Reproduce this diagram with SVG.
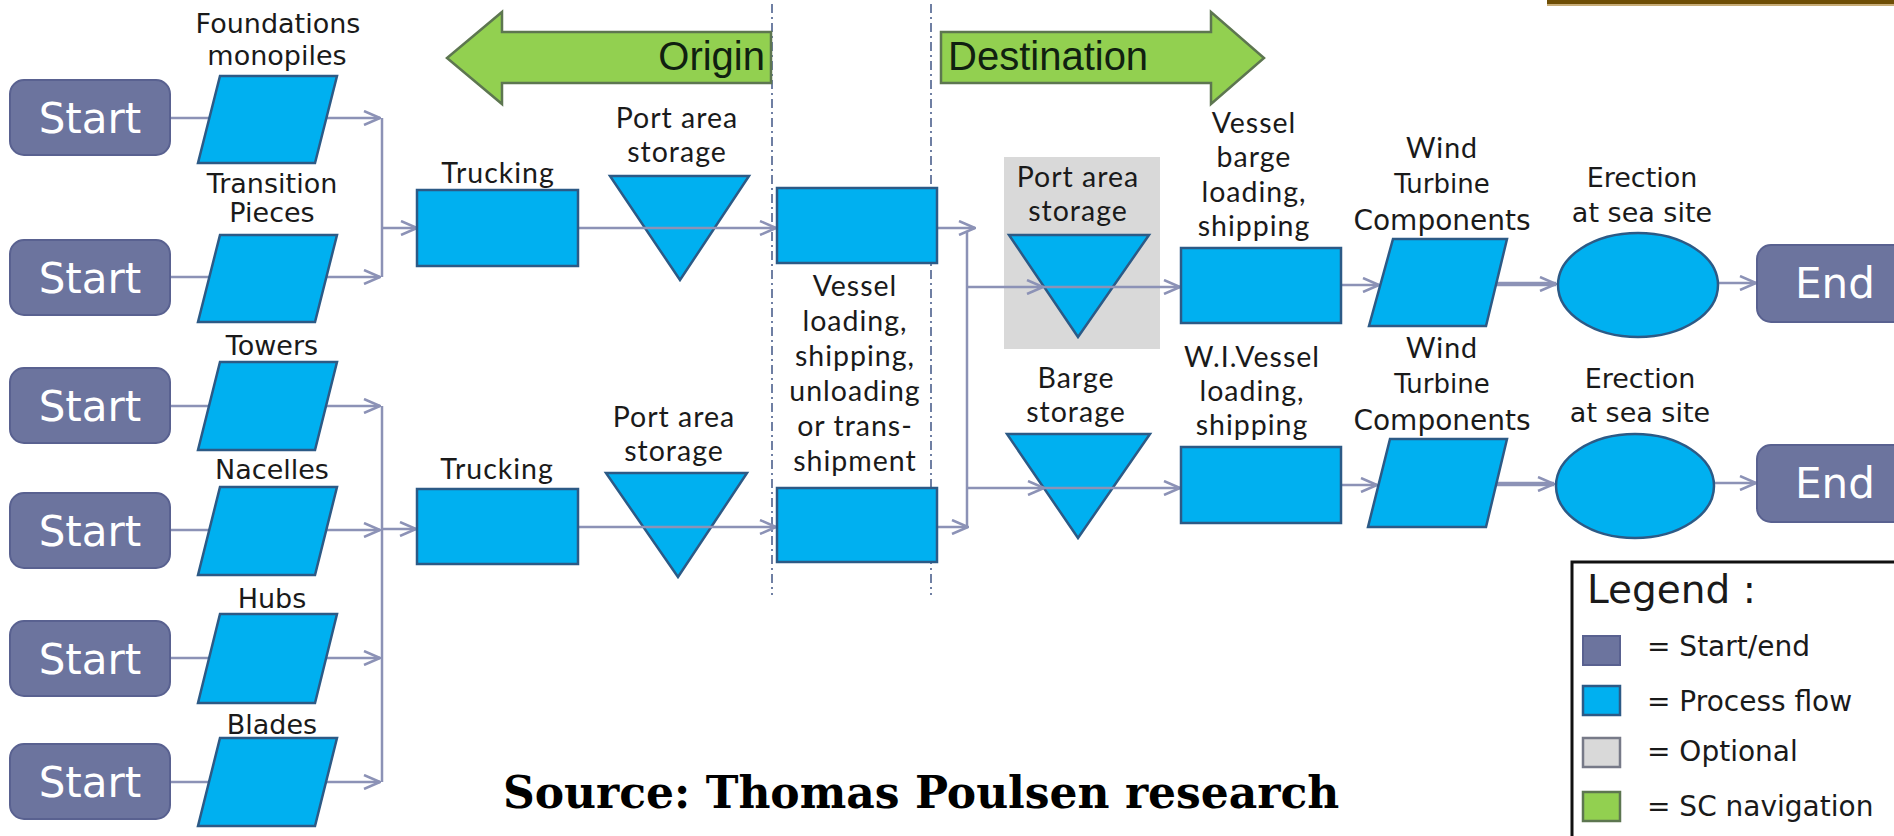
<svg xmlns="http://www.w3.org/2000/svg" width="1894" height="836" viewBox="0 0 1894 836">
<defs>
<style>
.se{fill:#6c749e;stroke:#596190;stroke-width:2}
.pf{fill:#00b0f0;stroke:#2c5a86;stroke-width:2.5}
.opt{fill:#d9d9d9}
.nav{fill:#92d050;stroke:#5d7650;stroke-width:2.5}
.cn{stroke:#8c92b6;stroke-width:2.5;fill:none}
.thick{stroke:#8c92b6;stroke-width:4.5;fill:none}
.dash{stroke:#6f7fa3;stroke-width:2;stroke-dasharray:9 4 2 4;fill:none}
.st{font-family:"DejaVu Sans",sans-serif;font-size:42px;fill:#ffffff;text-anchor:middle}
.gl{font-family:"DejaVu Sans",sans-serif;font-size:27px;fill:#1a1a1a;text-anchor:middle}
.cl{font-family:Lato,"Liberation Sans",sans-serif;font-size:28.5px;letter-spacing:1px;fill:#1a1a1a;text-anchor:middle}
.nt{font-family:"Liberation Sans",Arial,sans-serif;font-size:40px;fill:#102010}
.lg{font-family:"DejaVu Sans",sans-serif;font-size:28px;fill:#1a1a1a}
.src{font-family:"DejaVu Serif",serif;font-weight:bold;font-size:44px;fill:#000000}
</style>
<marker id="ah" viewBox="0 0 18 16" refX="17" refY="8" markerWidth="18" markerHeight="16" markerUnits="userSpaceOnUse" orient="auto">
<path d="M1,1 L17,8 L1,15" fill="none" stroke="#8c92b6" stroke-width="2.5"/>
</marker>
</defs>
<rect width="1894" height="836" fill="#ffffff"/>

<!-- top-right frame edge -->
<rect x="1547" y="0" width="347" height="4" fill="#6e4e05"/>
<rect x="1547" y="4" width="347" height="2" fill="#c8ad78"/>

<!-- dashed boundaries -->
<g id="boundaries">
<line class="dash" x1="772" y1="4" x2="772" y2="595"/>
<line class="dash" x1="931" y1="4" x2="931" y2="595"/>
</g>

<!-- navigation arrows -->
<g id="origin">
<polygon class="nav" points="771,32 502,32 502,12 447,58 502,104 502,83 771,83"/>
<text class="nt" x="765" y="70" text-anchor="end">Origin</text>
</g>
<g id="destination">
<polygon class="nav" points="941,32 1211,32 1211,12 1264,58 1211,104 1211,83 941,83"/>
<text class="nt" x="948" y="70">Destination</text>
</g>

<!-- optional area -->
<g id="optional-area">
<rect class="opt" x="1004" y="157" width="156" height="192"/>
</g>

<!-- storage triangles (connectors pass over them) -->
<g id="port-storage-origin-1">
<polygon class="pf" points="610,176 749,176 680,280"/>
<text class="cl" x="677" y="128">Port area</text>
<text class="cl" x="677" y="162">storage</text>
</g>
<g id="port-storage-origin-2">
<polygon class="pf" points="606,473 747,473 678,577"/>
<text class="cl" x="674" y="427">Port area</text>
<text class="cl" x="674" y="461">storage</text>
</g>
<g id="port-storage-dest">
<polygon class="pf" points="1009,235 1149,235 1078,337"/>
<text class="cl" x="1078" y="187">Port area</text>
<text class="cl" x="1078" y="221">storage</text>
</g>
<g id="barge-storage">
<polygon class="pf" points="1007,434 1150,434 1078,538"/>
<text class="cl" x="1076" y="388">Barge</text>
<text class="cl" x="1076" y="422">storage</text>
</g>

<!-- connectors -->
<g id="connectors">
<line class="cn" x1="170" y1="118" x2="380" y2="118" marker-end="url(#ah)"/>
<line class="cn" x1="170" y1="277" x2="380" y2="277" marker-end="url(#ah)"/>
<line class="cn" x1="382" y1="118" x2="382" y2="277"/>
<line class="cn" x1="382" y1="228" x2="417" y2="228" marker-end="url(#ah)"/>
<line class="cn" x1="170" y1="406" x2="380" y2="406" marker-end="url(#ah)"/>
<line class="cn" x1="170" y1="530" x2="380" y2="530" marker-end="url(#ah)"/>
<line class="cn" x1="170" y1="658" x2="380" y2="658" marker-end="url(#ah)"/>
<line class="cn" x1="170" y1="782" x2="380" y2="782" marker-end="url(#ah)"/>
<line class="cn" x1="382" y1="406" x2="382" y2="782"/>
<line class="cn" x1="382" y1="529" x2="416" y2="529" marker-end="url(#ah)"/>
<line class="cn" x1="578" y1="228" x2="776" y2="228" marker-end="url(#ah)"/>
<line class="cn" x1="578" y1="527" x2="776" y2="527" marker-end="url(#ah)"/>
<line class="cn" x1="937" y1="228" x2="975" y2="228" marker-end="url(#ah)"/>
<line class="cn" x1="937" y1="527" x2="968" y2="527" marker-end="url(#ah)"/>
<line class="cn" x1="967" y1="232" x2="967" y2="527"/>
<line class="cn" x1="967" y1="287" x2="1043" y2="287" marker-end="url(#ah)"/>
<line class="cn" x1="1043" y1="287" x2="1180" y2="287" marker-end="url(#ah)"/>
<line class="cn" x1="967" y1="488" x2="1044" y2="488" marker-end="url(#ah)"/>
<line class="cn" x1="1044" y1="488" x2="1180" y2="488" marker-end="url(#ah)"/>
<line class="cn" x1="1341" y1="285" x2="1379" y2="285" marker-end="url(#ah)"/>
<line class="cn" x1="1341" y1="485" x2="1377" y2="485" marker-end="url(#ah)"/>
<line class="thick" x1="1490" y1="284" x2="1556" y2="284" marker-end="url(#ah)"/>
<line class="thick" x1="1490" y1="484" x2="1554" y2="484" marker-end="url(#ah)"/>
<line class="cn" x1="1718" y1="283" x2="1756" y2="283" marker-end="url(#ah)"/>
<line class="cn" x1="1714" y1="483" x2="1756" y2="483" marker-end="url(#ah)"/>
</g>

<!-- start nodes -->
<g id="start-1"><rect class="se" x="10" y="80" width="160" height="75" rx="14"/><text class="st" x="90" y="133">Start</text></g>
<g id="start-2"><rect class="se" x="10" y="240" width="160" height="75" rx="14"/><text class="st" x="90" y="293">Start</text></g>
<g id="start-3"><rect class="se" x="10" y="368" width="160" height="75" rx="14"/><text class="st" x="90" y="421">Start</text></g>
<g id="start-4"><rect class="se" x="10" y="493" width="160" height="75" rx="14"/><text class="st" x="90" y="546">Start</text></g>
<g id="start-5"><rect class="se" x="10" y="621" width="160" height="75" rx="14"/><text class="st" x="90" y="674">Start</text></g>
<g id="start-6"><rect class="se" x="10" y="744" width="160" height="75" rx="14"/><text class="st" x="90" y="797">Start</text></g>

<!-- component parallelograms -->
<g id="foundations">
<polygon class="pf" points="220,76 337,76 315,163 198,163"/>
<text class="gl" x="278" y="33">Foundations</text>
<text class="gl" x="277" y="65">monopiles</text>
</g>
<g id="transition-pieces">
<polygon class="pf" points="220,235 337,235 315,322 198,322"/>
<text class="gl" x="272" y="193">Transition</text>
<text class="gl" x="272" y="222">Pieces</text>
</g>
<g id="towers">
<polygon class="pf" points="220,362 337,362 315,450 198,450"/>
<text class="gl" x="272" y="355">Towers</text>
</g>
<g id="nacelles">
<polygon class="pf" points="220,487 337,487 315,575 198,575"/>
<text class="gl" x="272" y="479">Nacelles</text>
</g>
<g id="hubs">
<polygon class="pf" points="220,614 337,614 315,703 198,703"/>
<text class="gl" x="272" y="608">Hubs</text>
</g>
<g id="blades">
<polygon class="pf" points="220,738 337,738 315,826 198,826"/>
<text class="gl" x="272" y="734">Blades</text>
</g>

<!-- trucking -->
<g id="trucking-1">
<rect class="pf" x="417" y="190" width="161" height="76"/>
<text class="cl" x="498" y="183">Trucking</text>
</g>
<g id="trucking-2">
<rect class="pf" x="417" y="489" width="161" height="75"/>
<text class="cl" x="497" y="479">Trucking</text>
</g>

<!-- vessel crossing -->
<g id="vessel-1">
<rect class="pf" x="777" y="188" width="160" height="75"/>
</g>
<g id="vessel-2">
<rect class="pf" x="777" y="488" width="160" height="74"/>
<text class="cl" x="855" y="296">Vessel</text>
<text class="cl" x="855" y="331">loading,</text>
<text class="cl" x="855" y="366">shipping,</text>
<text class="cl" x="855" y="401">unloading</text>
<text class="cl" x="855" y="436">or trans-</text>
<text class="cl" x="855" y="471">shipment</text>
</g>

<!-- destination shipping -->
<g id="vessel-barge">
<rect class="pf" x="1181" y="248" width="160" height="75"/>
<text class="cl" x="1254" y="133">Vessel</text>
<text class="cl" x="1254" y="167">barge</text>
<text class="cl" x="1254" y="202">loading,</text>
<text class="cl" x="1254" y="236">shipping</text>
</g>
<g id="wi-vessel">
<rect class="pf" x="1181" y="447" width="160" height="76"/>
<text class="cl" x="1252" y="367">W.I.Vessel</text>
<text class="cl" x="1252" y="401">loading,</text>
<text class="cl" x="1252" y="435">shipping</text>
</g>

<!-- wind turbine components -->
<g id="wtc-1">
<polygon class="pf" points="1393,239 1507,239 1486,326 1369,326"/>
<text class="cl" x="1442" y="158">Wind</text>
<text class="gl" x="1442" y="193" style="font-size:26px">Turbine</text>
<text class="gl" x="1442" y="230" style="font-size:28px">Components</text>
</g>
<g id="wtc-2">
<polygon class="pf" points="1390,439 1507,439 1486,527 1368,527"/>
<text class="cl" x="1442" y="358">Wind</text>
<text class="gl" x="1442" y="393" style="font-size:26px">Turbine</text>
<text class="gl" x="1442" y="430" style="font-size:28px">Components</text>
</g>

<!-- erection -->
<g id="erection-1">
<ellipse class="pf" cx="1638" cy="285" rx="80" ry="52"/>
<text class="gl" x="1642" y="187">Erection</text>
<text class="gl" x="1642" y="222">at sea site</text>
</g>
<g id="erection-2">
<ellipse class="pf" cx="1635" cy="486" rx="79" ry="52"/>
<text class="gl" x="1640" y="388">Erection</text>
<text class="gl" x="1640" y="422">at sea site</text>
</g>

<!-- end nodes -->
<g id="end-1"><rect class="se" x="1757" y="245" width="200" height="77" rx="14"/><text class="st" x="1835" y="298">End</text></g>
<g id="end-2"><rect class="se" x="1757" y="445" width="200" height="77" rx="14"/><text class="st" x="1835" y="498">End</text></g>

<!-- legend -->
<g id="legend">
<rect x="1572" y="562" width="400" height="400" fill="#ffffff" stroke="#111111" stroke-width="3"/>
<text class="lg" x="1587" y="603" style="font-size:39px">Legend :</text>
<rect class="se" x="1583" y="636" width="37" height="29"/>
<text class="lg" x="1647" y="656">= Start/end</text>
<rect class="pf" x="1583" y="686" width="37" height="29"/>
<text class="lg" x="1647" y="711">= Process flow</text>
<rect x="1583" y="738" width="37" height="29" fill="#d9d9d9" stroke="#777a88" stroke-width="2.5"/>
<text class="lg" x="1647" y="761">= Optional</text>
<rect class="nav" x="1583" y="792" width="37" height="29"/>
<text class="lg" x="1647" y="816">= SC navigation</text>
</g>

<!-- source -->
<text class="src" x="503" y="808">Source: Thomas Poulsen research</text>
</svg>
